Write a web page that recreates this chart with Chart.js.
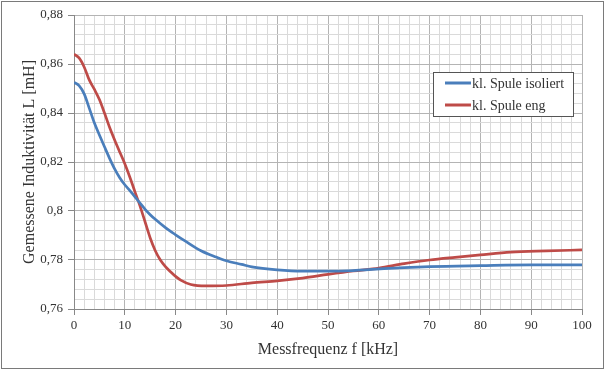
<!DOCTYPE html>
<html><head><meta charset="utf-8">
<script src="https://cdn.jsdelivr.net/npm/chart.js@4/dist/chart.umd.min.js"></script>
<style>html,body{margin:0;padding:0;background:#fff}#wrap{width:606px;height:372px}</style>
</head><body><div id="wrap"><canvas id="c" width="606" height="372"></canvas></div>
<script>
// ---- data ----
const seriesNames = ['kl. Spule isoliert', 'kl. Spule eng'];
const isoliertF = [0,1,2,3,4,5,6,7,8,9,10,11,12,13,14,15,16,18,20,22,25,28,30,33,35,40,45,52,58,65,70,80,90,100];
const isoliertL = [0.8525,0.8512,0.8478,0.8420,0.8360,0.8310,0.8262,0.8215,0.8172,0.8136,0.8107,0.8083,0.8058,0.8032,0.8007,0.7985,0.7966,0.7932,0.7903,0.7876,0.7838,0.7812,0.7797,0.7782,0.7772,0.7760,0.7755,0.7755,0.7761,0.7769,0.7773,0.7777,0.7780,0.7780];
const engF = [0,1,2,3,4,5,6,7,8,9,10,11,12,13,14,15,16,17,18,19,20,21,23,26,30,35,40,45,50,55,60,65,70,75,80,86,93,100];
const engL = [0.8640,0.8625,0.8588,0.8535,0.8497,0.8455,0.8400,0.8342,0.8290,0.8241,0.8193,0.8138,0.8078,0.8020,0.7955,0.7890,0.7838,0.7800,0.7773,0.7752,0.7733,0.7718,0.7700,0.7694,0.7696,0.7707,0.7715,0.7726,0.7741,0.7755,0.7767,0.7785,0.7800,0.7811,0.7821,0.7832,0.7837,0.7841];
const xTickValues = [0,10,20,30,40,50,60,70,80,90,100];
const xTickLabels = ['0','10','20','30','40','50','60','70','80','90','100'];
const yTickValues = [0.76,0.78,0.80,0.82,0.84,0.86,0.88];
const yTickLabels = ['0,76','0,78','0,8','0,82','0,84','0,86','0,88'];
const xTitle = 'Messfrequenz f [kHz]';
const yTitle = 'Gemessene Induktivität L [mH]';

const FONT = '"Liberation Serif", "DejaVu Serif", serif';
const TXT = '#333333';
const MAJOR = '#b4b4b4', MINOR = '#dadada';

function pts(xs, ys){ return xs.map((x,i)=>({x:x, y:ys[i]})); }

// minor tick subdivisions (5 per major interval)
function subdivide(major){
  const out=[];
  for(let i=0;i<major.length;i++){
    out.push({value:major[i], major:true});
    if(i<major.length-1){
      const step=(major[i+1]-major[i])/5;
      for(let k=1;k<5;k++) out.push({value:+(major[i]+k*step).toFixed(6), major:false});
    }
  }
  return out;
}
function labelFor(values, labels, v){
  const i = values.findIndex(t=>Math.abs(t-v)<1e-9);
  return i>=0 ? labels[i] : '';
}

const legendPlugin = {
  id:'boxLegend',
  afterDraw(chart){
    const ctx=chart.ctx;
    ctx.save();
    ctx.fillStyle='#fff';
    ctx.fillRect(433,72,141,45);
    ctx.strokeStyle='#555';ctx.lineWidth=1;
    ctx.strokeRect(433.5,72.5,140,44);
    const rows=[83,105];
    chart.data.datasets.forEach((ds,i)=>{
      ctx.strokeStyle=ds.borderColor;ctx.lineWidth=3;ctx.lineCap='butt';
      ctx.beginPath();ctx.moveTo(445,rows[i]);ctx.lineTo(471,rows[i]);ctx.stroke();
      ctx.fillStyle=TXT;ctx.font='14px '+FONT;ctx.textBaseline='middle';ctx.textAlign='left';
      ctx.fillText(ds.label,472,rows[i]+1);
    });
    ctx.restore();
  }
};
const framePlugin = {
  id:'frame',
  beforeDraw(chart){
    const ctx=chart.ctx;ctx.save();
    ctx.fillStyle='#fff';ctx.fillRect(0,0,chart.width,chart.height);
    ctx.restore();
  },
  afterDraw(chart){
    const ctx=chart.ctx;ctx.save();
    ctx.strokeStyle='#7a7a7a';ctx.lineWidth=1;
    ctx.strokeRect(1.5,1.5,602,367);
    ctx.restore();
  }
};

new Chart(document.getElementById('c'), {
  type:'line',
  data:{datasets:[
    {label:seriesNames[0], data:pts(isoliertF,isoliertL), borderColor:'#4a7ebb', borderWidth:2.7, pointRadius:0, cubicInterpolationMode:'monotone', fill:false},
    {label:seriesNames[1], data:pts(engF,engL), borderColor:'#be4b48', borderWidth:2.7, pointRadius:0, cubicInterpolationMode:'monotone', fill:false}
  ]},
  options:{
    responsive:false, animation:false, devicePixelRatio:1,
    layout:{padding:{top:15,right:24,left:0,bottom:0}},
    plugins:{legend:{display:false}, tooltip:{enabled:false}},
    scales:{
      x:{type:'linear', min:0, max:100,
        afterBuildTicks(s){ s.ticks = subdivide(xTickValues); },
        afterFit(s){ s.height = 63; },
        ticks:{autoSkip:false, maxRotation:0, padding:3, color:TXT, font:{family:FONT,size:13},
          callback:(v)=>labelFor(xTickValues,xTickLabels,v)},
        grid:{color:(c)=>c.tick&&c.tick.major?MAJOR:MINOR, tickColor:(c)=>c.tick&&c.tick.major?'#888':'rgba(0,0,0,0)', tickLength:6, lineWidth:1},
        border:{color:'#888', width:1},
        title:{display:true, text:xTitle, color:TXT, font:{family:FONT,size:16}, padding:{top:0,bottom:13}}
      },
      y:{type:'linear', min:0.76, max:0.88,
        afterBuildTicks(s){ s.ticks = subdivide(yTickValues); },
        afterFit(s){ s.width = 74; },
        ticks:{autoSkip:false, padding:5, color:TXT, font:{family:FONT,size:13},
          callback:(v)=>labelFor(yTickValues,yTickLabels,v)},
        grid:{color:(c)=>c.tick&&c.tick.major?MAJOR:MINOR, tickColor:(c)=>c.tick&&c.tick.major?'#888':'rgba(0,0,0,0)', tickLength:6, lineWidth:1},
        border:{color:'#888', width:1},
        title:{display:true, text:yTitle, color:TXT, font:{family:FONT,size:16}, padding:{top:20,bottom:0}}
      }
    }
  },
  plugins:[framePlugin, legendPlugin]
});
</script></body></html>
